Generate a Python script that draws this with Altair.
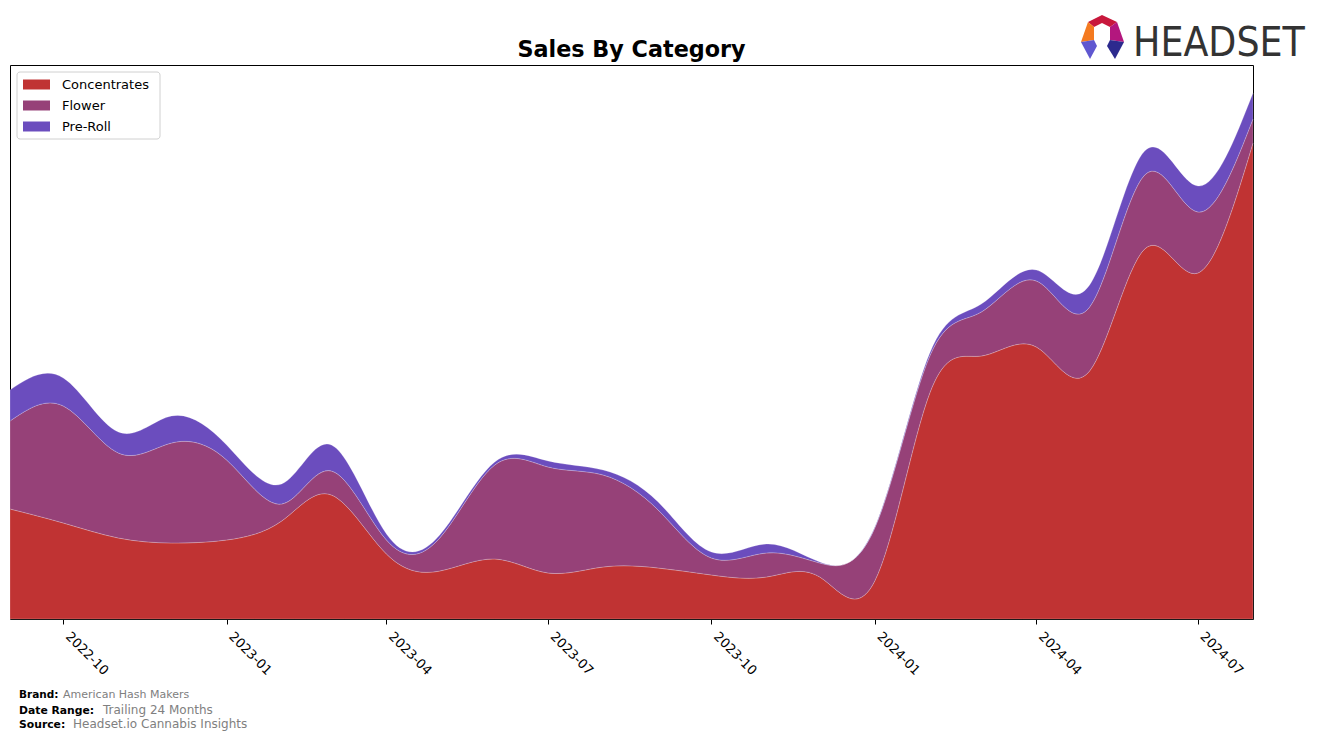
import altair as alt
import pandas as pd

months = ["2022-09-01", "2022-10-01", "2022-11-01", "2022-12-01", "2023-01-01", "2023-02-01",
          "2023-03-01", "2023-04-01", "2023-05-01", "2023-06-01", "2023-07-01", "2023-08-01",
          "2023-09-01", "2023-10-01", "2023-11-01", "2023-12-01", "2024-01-01", "2024-02-01",
          "2024-03-01", "2024-04-01", "2024-05-01", "2024-06-01", "2024-07-01", "2024-08-01"]
categories = ["Concentrates", "Flower", "Pre-Roll"]
colors = ["#C03333", "#964178", "#6B4DBE"]
concentrates = [110, 96, 81, 76, 79, 98, 124, 65, 48, 60, 46, 52, 51, 44, 42, 42, 38, 226, 263, 272, 248, 370, 346, 476]
flower = [88, 117, 85, 100, 80, 17, 24, 14, 33, 94, 106, 92, 58, 17, 24, 14, 53, 37, 44, 66, 64, 74, 61, 24]
preroll = [31, 28, 21, 27, 15, 20, 26, 6, 3, 3, 6, 5, 8, 6, 9, 1, 1, 3, 8, 11, 22, 24, 26, 26]
tick_months = [(2022, 10), (2023, 1), (2023, 4), (2023, 7), (2023, 10), (2024, 1), (2024, 4), (2024, 7)]

series = {"Concentrates": concentrates, "Flower": flower, "Pre-Roll": preroll}
rows = []
for ci, cat in enumerate(categories):
    for m, v in zip(months, series[cat]):
        rows.append({"date": m, "category": cat, "value": v, "order": ci})
df = pd.DataFrame(rows)

W, H = 1243, 554
FONT = "DejaVu Sans"

area = alt.Chart(df).mark_area(
    interpolate="natural", stroke="white", strokeWidth=0.6, strokeOpacity=0.35
).encode(
    x=alt.X("date:T",
            scale=alt.Scale(type="utc", nice=False,
                            domain=[alt.DateTime(year=2022, month=9, date=1, utc=True),
                                    alt.DateTime(year=2024, month=8, date=1, utc=True)]),
            axis=alt.Axis(values=[alt.DateTime(year=y, month=mo, date=1, utc=True) for y, mo in tick_months],
                          format="%Y-%m", labelAngle=45, labelAlign="left", labelBaseline="middle",
                          tickSize=5, tickColor="black", tickWidth=1, domain=False, grid=False,
                          labelFontSize=13, labelColor="black", labelFont=FONT, labelPadding=10,
                          labelOffset=4, title=None, labelFlush=False, labelOverlap=False)),
    y=alt.Y("value:Q", stack="zero", scale=alt.Scale(domain=[0, 554], nice=False, zero=True), axis=None),
    color=alt.Color("category:N",
                    scale=alt.Scale(domain=categories, range=colors),
                    legend=alt.Legend(title=None, orient="none", legendX=13, legendY=6,
                                      symbolType="M-1,-0.37L1,-0.37L1,0.37L-1,0.37Z",
                                      symbolSize=729, symbolStrokeWidth=0, symbolOpacity=1,
                                      labelFontSize=13, labelFont=FONT, labelColor="black",
                                      labelOffset=12, padding=0, rowPadding=0)),
    order=alt.Order("order:Q", sort="ascending"),
)

legend_box = alt.Chart(pd.DataFrame({"k": [0]})).mark_rect(
    fill="white", stroke="#d0d0d0", strokeWidth=1, cornerRadius=3
).encode(x=alt.value(7), x2=alt.value(150), y=alt.value(7), y2=alt.value(74))

def text_layer(txt, x, y, size, weight="normal", color="black", align="left", font=FONT):
    return alt.Chart(pd.DataFrame({"t": [txt]})).mark_text(
        align=align, baseline="alphabetic", fontSize=size, fontWeight=weight, color=color, font=font
    ).encode(text="t:N", x=alt.value(x), y=alt.value(y))

title = text_layer("Sales By Category", W / 2, 57 - 65, 22.3, weight="bold", align="center")
foot = [
    text_layer("Brand:", 19 - 10, 698 - 65, 10.5, weight="bold"),
    text_layer("American Hash Makers", 63 - 10, 698 - 65, 11, color="#808080"),
    text_layer("Date Range:", 19 - 10, 714 - 65, 10.8, weight="bold"),
    text_layer("Trailing 24 Months", 103 - 10, 714 - 65, 12, color="#808080"),
    text_layer("Source:", 19 - 10, 728 - 65, 10.8, weight="bold"),
    text_layer("Headset.io Cannabis Insights", 73 - 10, 728 - 65, 12, color="#808080"),
]
logo_text = text_layer("HEADSET", 1133 - 10, 56 - 65, 40.5, color="#333333",
                       font="Liberation Sans Narrow, DejaVu Sans Condensed, Roboto")

pieces = [
    ("M-14,-15L0,-22L15,-15L8,-10L0,-14L-8,-10Z", "#C8183C"),
    ("M-14,-15L-8,-10L-8,3L-21,5Z", "#F47A20"),
    ("M-21,5L-8,3L-5,9L-12,22Z", "#5F57D0"),
    ("M15,-15L22,5L8,3L8,-10Z", "#B3177E"),
    ("M22,5L13,22L5,9L8,3Z", "#2C2A8E"),
]
logo_layers = [
    alt.Chart(pd.DataFrame({"k": [0]})).mark_point(
        shape=p, size=4, filled=True, fill=c, opacity=1, strokeWidth=0
    ).encode(x=alt.value(1102 - 10), y=alt.value(37 - 65))
    for p, c in pieces
]

chart = alt.layer(area, legend_box, title, *foot, logo_text, *logo_layers).properties(
    width=W, height=H,
    autosize=alt.AutoSizeParams(type="none"),
    padding={"left": 2, "top": 57, "right": 56, "bottom": 118},
).configure_view(stroke="black", strokeWidth=1).resolve_scale(color="independent")

chart.save("out.html", embed_options={"renderer": "svg", "actions": False})
